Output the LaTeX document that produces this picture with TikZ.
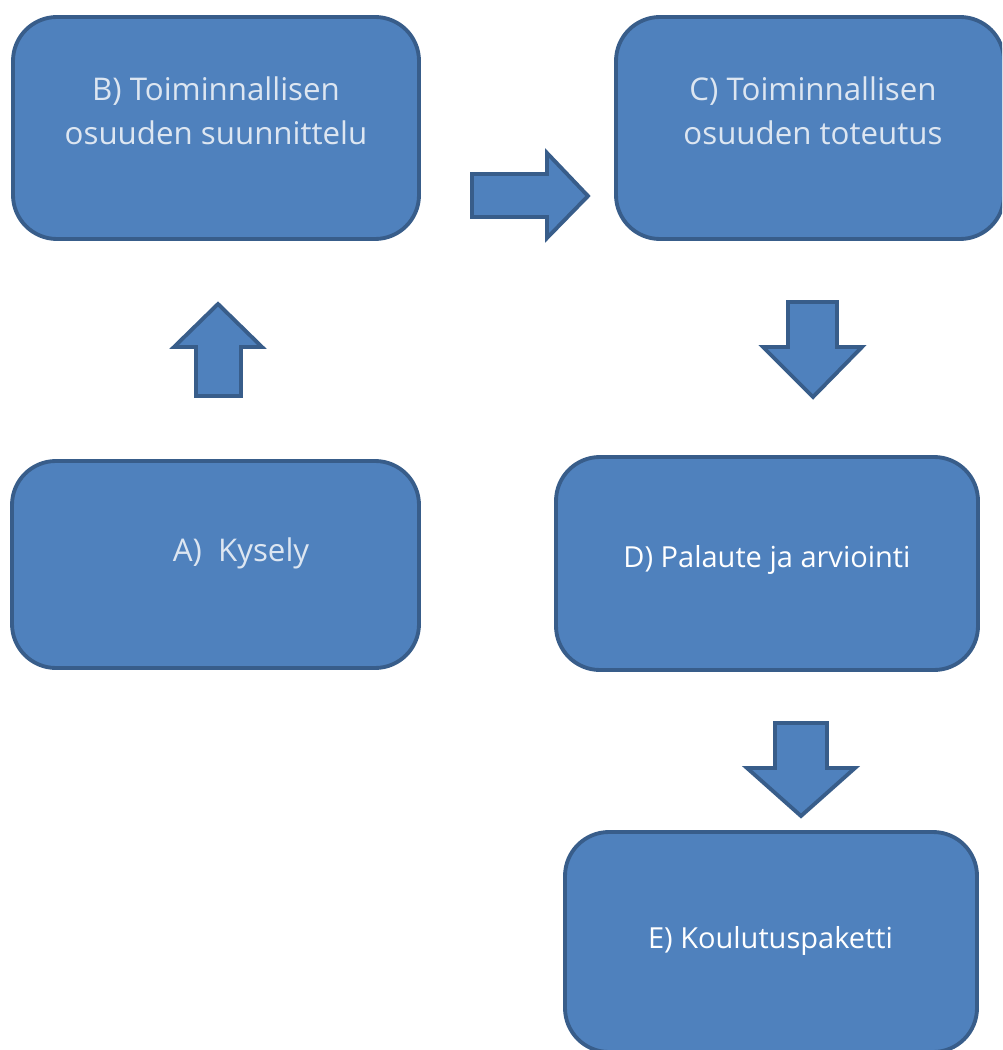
\documentclass[tikz,border=0pt]{standalone}
\usepackage{fontspec}
\setmainfont{Open Sans}
\definecolor{boxfill}{HTML}{4F81BD}
\definecolor{boxline}{HTML}{385D8A}
\definecolor{paletext}{HTML}{DDE6F1}
\begin{document}
\begin{tikzpicture}[x=0.02cm,y=-0.02cm,line join=round,font=\fontsize{16.5}{25}\selectfont,
	box/.style={draw=boxline,fill=boxfill,line width=2.2pt,rounded corners=25pt},
	blockarrow/.style={draw=boxline,fill=boxfill,line width=2.2pt,line join=miter},
	boxtext/.style={text=white,align=center,inner sep=0pt},
	paletxt/.style={boxtext,text=paletext,font=\fontsize{17.8}{25}\selectfont}]
	\useasboundingbox (0,0) rectangle (1002,1050);
	\clip (0,0) rectangle (1002,1050);
	% the five steps
	\foreach \n/\p/\w/\h in {a/{215.5,564.5}/407/207,b/{216,128}/406/222,c/{810,128}/388/222,d/{767,563.5}/422/213,e/{771,942}/412/220}
		\node[box,minimum width=\w*0.02cm,minimum height=\h*0.02cm] (\n) at (\p) {};
	\node[paletxt,anchor=base] (atext) at (241,561) {A)\ \ Kysely};
	\node[paletxt] (btext) at (216,111) {B) Toiminnallisen\\osuuden suunnittelu};
	\node[paletxt] (ctext) at (813,111) {C) Toiminnallisen\\osuuden toteutus};
	\node[boxtext,anchor=base] (dtext) at (767,567) {D) Palaute ja arviointi};
	\node[boxtext,anchor=base] (etext) at (770.5,948) {E) Koulutuspaketti};
	% block arrows
	\draw[blockarrow] (196,396)--(196,347)--(174,347)--(218,304)--(262,347)--(241,347)--(241,396)--cycle;
	\draw[blockarrow] (472,174)--(547,174)--(547,153)--(588,196)--(547,238)--(547,217)--(472,217)--cycle;
	\draw[blockarrow] (788,302)--(837,302)--(837,347)--(862,347)--(813,397)--(763,347)--(788,347)--cycle;
	\draw[blockarrow] (775,723)--(827,723)--(827,768)--(855,768)--(801,816)--(747,768)--(775,768)--cycle;
\end{tikzpicture}
\end{document}
